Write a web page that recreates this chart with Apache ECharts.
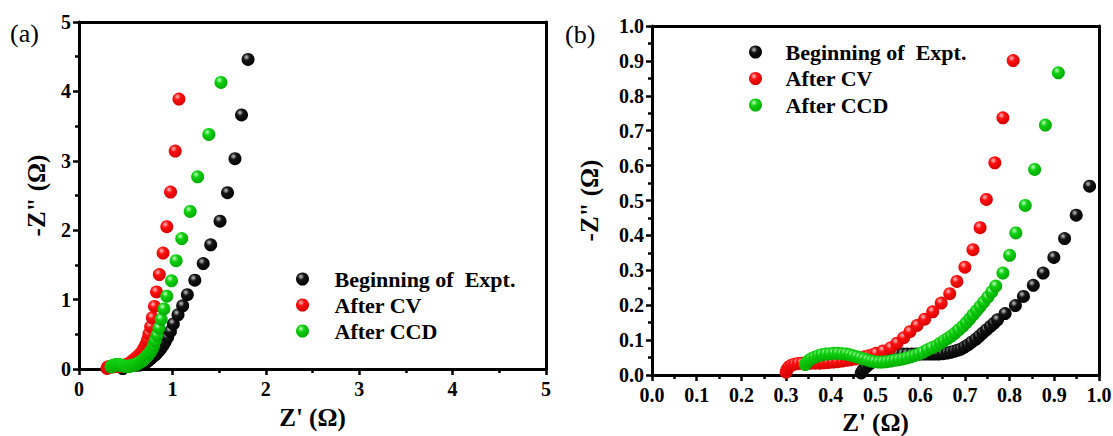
<!DOCTYPE html>
<html><head><meta charset="utf-8">
<script src="https://cdn.jsdelivr.net/npm/echarts/dist/echarts.min.js"></script>
<style>html,body{margin:0;padding:0;background:#fff}#c{width:1113px;height:436px}</style>
</head><body><div id="c"></div>
<script>
// ---- data ----
const seriesNames = ['Beginning of  Expt.', 'After CV', 'After CCD'];

const beginX = [0.468,0.472,0.478,0.485,0.493,0.502,0.511,0.521,0.531,0.541,0.551,0.561,0.571,0.581,0.591,0.601,0.611,0.621,0.631,0.641,0.651,0.660,0.668,0.676,0.684,0.691,0.699,0.707,0.715,0.724,0.732,0.740,0.748,0.757,0.765,0.773,0.790,0.813,0.831,0.853,0.875,0.899,0.923,0.949,0.979,1.01,1.06,1.11,1.16,1.24,1.33,1.41,1.51,1.59,1.67,1.74,1.81];
const beginY = [0.006,0.014,0.022,0.030,0.037,0.043,0.048,0.052,0.055,0.057,0.059,0.060,0.060,0.060,0.060,0.060,0.060,0.060,0.060,0.060,0.061,0.063,0.065,0.068,0.071,0.074,0.080,0.086,0.094,0.102,0.111,0.120,0.129,0.139,0.148,0.158,0.176,0.199,0.225,0.257,0.292,0.337,0.391,0.458,0.541,0.65,0.78,0.91,1.07,1.28,1.52,1.79,2.13,2.54,3.03,3.66,4.46];

const cvX = [0.300,0.302,0.306,0.312,0.319,0.327,0.336,0.345,0.355,0.365,0.375,0.385,0.395,0.405,0.415,0.425,0.435,0.445,0.455,0.465,0.475,0.485,0.494,0.501,0.517,0.534,0.548,0.563,0.577,0.593,0.610,0.628,0.647,0.666,0.682,0.700,0.718,0.734,0.748,0.767,0.785,0.808,0.83,0.86,0.90,0.94,0.98,1.03,1.07];
const cvY = [0.008,0.016,0.023,0.028,0.031,0.033,0.034,0.034,0.034,0.034,0.034,0.035,0.036,0.037,0.038,0.040,0.042,0.044,0.046,0.049,0.052,0.055,0.058,0.062,0.069,0.078,0.091,0.107,0.124,0.142,0.160,0.181,0.206,0.233,0.268,0.309,0.359,0.422,0.503,0.608,0.737,0.901,1.11,1.36,1.67,2.05,2.55,3.14,3.89];

const ccdX = [0.343,0.346,0.351,0.357,0.364,0.372,0.380,0.389,0.398,0.407,0.416,0.425,0.434,0.442,0.450,0.458,0.466,0.474,0.482,0.490,0.498,0.507,0.516,0.525,0.534,0.543,0.552,0.561,0.570,0.579,0.588,0.597,0.606,0.616,0.626,0.637,0.645,0.653,0.662,0.670,0.678,0.686,0.695,0.703,0.711,0.718,0.726,0.734,0.742,0.751,0.760,0.769,0.785,0.800,0.814,0.835,0.856,0.880,0.909,0.94,0.99,1.04,1.10,1.19,1.27,1.39,1.52];
const ccdY = [0.030,0.036,0.042,0.047,0.051,0.055,0.058,0.060,0.061,0.062,0.062,0.061,0.060,0.058,0.055,0.052,0.049,0.046,0.043,0.040,0.038,0.037,0.037,0.038,0.040,0.042,0.044,0.046,0.049,0.052,0.056,0.060,0.065,0.072,0.078,0.084,0.091,0.098,0.105,0.112,0.120,0.129,0.139,0.150,0.161,0.172,0.184,0.196,0.209,0.223,0.238,0.255,0.292,0.343,0.407,0.486,0.589,0.716,0.866,1.05,1.27,1.56,1.88,2.27,2.77,3.38,4.13];

const xTitle = "Z' (\u03A9)";
const yTitle = '-Z" (\u03A9)';
const panelLabels = ['(a)', '(b)'];

// ---- styling ----
const FONT = '"Liberation Serif","Times New Roman",serif';
function sphere(hi, mid, lo) {
  return { type: 'radial', x: 0.38, y: 0.32, r: 0.72,
    colorStops: [{offset: 0, color: hi}, {offset: 0.35, color: mid}, {offset: 1, color: lo}] };
}
const colors = [sphere('#c8c8c8', '#151515', '#000000'),
                sphere('#ffc0c0', '#ff1010', '#d00000'),
                sphere('#c0ffc0', '#10d010', '#00a800')];
const zip = (xs, ys) => xs.map((x, i) => [x, ys[i]]);
const datasets = [zip(beginX, beginY), zip(cvX, cvY), zip(ccdX, ccdY)];

const mkLine = () => ({show: true, onZero: false, lineStyle: {color: '#000000', width: 3, opacity: 1, type: 'solid'}});
function mainAxis(gi, max, interval, fmt, name, nameGap, isY) {
  return {
    type: 'value', gridIndex: gi, min: 0, max: max, interval: interval,
    position: isY ? 'left' : 'bottom',
    name: name, nameLocation: 'middle', nameGap: nameGap, nameRotate: isY ? 90 : 0,
    nameTextStyle: {fontFamily: FONT, fontWeight: 'bold', fontSize: 25, color: '#000'},
    axisLine: mkLine(),
    axisTick: {show: true, inside: false, length: 6, lineStyle: {color: '#000000', width: 2.5, opacity: 1}},
    minorTick: {show: true, splitNumber: 2, length: 4, lineStyle: {color: '#000000', width: 2.5, opacity: 1}},
    axisLabel: {formatter: fmt, margin: isY ? 8 : 10, fontFamily: FONT, fontWeight: 'bold', fontSize: 20, color: '#000'},
    splitLine: {show: false}, minorSplitLine: {show: false}
  };
}
function frameAxis(gi, max, isY) {
  return {
    type: 'value', gridIndex: gi, min: 0, max: max, position: isY ? 'right' : 'top',
    axisLine: mkLine(), axisTick: {show: false}, axisLabel: {show: false}, splitLine: {show: false}
  };
}
const fmtInt = v => String(Math.round(v));
const fmtDec = v => v.toFixed(1);

const series = [];
[0, 1].forEach(gi => {
  seriesNames.forEach((n, i) => {
    series.push({
      type: 'scatter', name: n, xAxisIndex: gi, yAxisIndex: gi,
      data: datasets[i], symbol: 'circle', symbolSize: 13,
      itemStyle: {color: colors[i], opacity: 1},
      emphasis: {disabled: true}, clip: true
    });
  });
});

function legend(left, top, w, gap) {
  return {
    orient: 'vertical', left: left, top: top, itemWidth: w, itemHeight: 13, itemGap: gap,
    data: seriesNames.map(n => ({name: n, icon: 'circle'})),
    textStyle: {fontFamily: FONT, fontWeight: 'bold', fontSize: 22, lineHeight: 22, color: '#000'},
    selectedMode: false
  };
}

const option = {
  backgroundColor: '#fff',
  animation: false,
  grid: [
    {left: 79, top: 22, width: 467, height: 347, outerBoundsMode: 'none', containLabel: false},
    {left: 652, top: 26, width: 447, height: 349, outerBoundsMode: 'none', containLabel: false}
  ],
  xAxis: [mainAxis(0, 5, 1, fmtInt, xTitle, 36, false), mainAxis(1, 1, 0.1, fmtDec, xTitle, 35, false),
          frameAxis(0, 5, false), frameAxis(1, 1, false)],
  yAxis: [mainAxis(0, 5, 1, fmtInt, yTitle, 30, true), mainAxis(1, 1, 0.1, fmtDec, yTitle, 50, true),
          frameAxis(0, 5, true), frameAxis(1, 1, true)],
  legend: [legend(291, 263, 54, 4), legend(744, 36, 50, 4.5)],
  graphic: [
    {type: 'text', left: 10, top: 20, style: {text: panelLabels[0], font: '26px ' + FONT, fill: '#000'}},
    {type: 'text', left: 565, top: 21, style: {text: panelLabels[1], font: '26px ' + FONT, fill: '#000'}}
  ],
  series: series
};
const chart = echarts.init(document.getElementById('c'), null, {renderer: 'svg'});
chart.setOption(option);
</script>
</body></html>
